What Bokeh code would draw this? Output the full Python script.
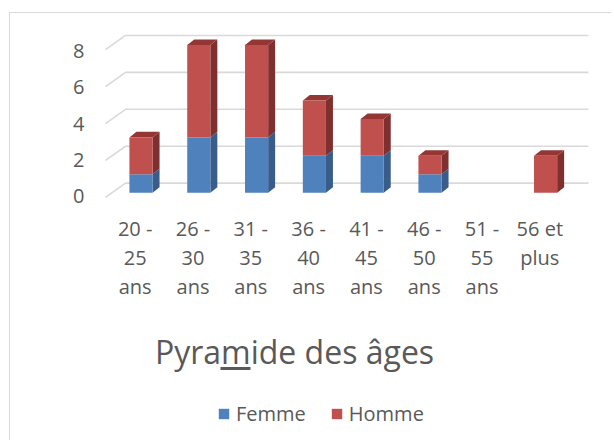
from bokeh.plotting import figure
from bokeh.models import (Range1d, FixedTicker, Legend, LegendItem, Label,
                          ColumnDataSource)
from bokeh.layouts import column
from bokeh.embed import file_html
from bokeh.resources import INLINE

# ---- data ----
categories = ["20 - 25 ans", "26 - 30 ans", "31 - 35 ans", "36 - 40 ans",
              "41 - 45 ans", "46 - 50 ans", "51 - 55 ans", "56 et plus"]
tick_labels = ["20 -\n25\nans", "26 -\n30\nans", "31 -\n35\nans", "36 -\n40\nans",
               "41 -\n45\nans", "46 -\n50\nans", "51 -\n55\nans", "56 et\nplus"]
femme = [1, 3, 3, 2, 2, 1, 0, 0]
homme = [2, 5, 5, 3, 2, 1, 0, 2]
y_ticks = [0, 2, 4, 6, 8]
series_names = ["Femme", "Homme"]
chart_title = "Pyramide des âges"

# ---- styling ----
FONT = "Open Sans"
TXT = "#595959"
GRID = "#d9d9d9"
BLUE, BLUE_SIDE, BLUE_TOP = "#4F81BD", "#385D8A", "#3F6797"
RED, RED_SIDE, RED_TOP = "#C0504D", "#7F2F2D", "#943634"
BW = 0.4        # bar width (x units)
DX = 0.121      # depth offset x
DY = 0.30       # depth offset y
W = 602
H1 = 305
H2 = 123
FL, FR = 78, 12  # frame borders (left/right), shared by both figures

# ================= chart =================
p = figure(width=W, height=H1, x_range=Range1d(-0.908, 7.95),
           y_range=Range1d(-0.69, 9.06), output_backend="svg",
           toolbar_location=None, min_border_left=FL, min_border_right=FR,
           min_border_top=12, min_border_bottom=H1 - 192)
p.grid.visible = False
p.outline_line_color = None
p.background_fill_color = "white"
p.border_fill_color = "white"

# 3D-ish gridlines (front diagonal + back wall line)
gx, gy = [], []
for v in y_ticks:
    gx.append([-0.614, -0.268, 7.742])
    gy.append([v - 0.25, v + 0.52, v + 0.52])
p.multi_line(gx, gy, line_color=GRID, line_width=1.6)

n = len(categories)
xs = list(range(n))
tops_h = [f + h for f, h in zip(femme, homme)]


def side_and_top(bot, top, with_top):
    sx, sy, tx, ty = [], [], [], []
    for i in range(n):
        if top[i] <= bot[i]:
            continue
        r = xs[i] + BW / 2
        l = xs[i] - BW / 2
        sx.append([r, r, r + DX, r + DX])
        sy.append([bot[i], top[i], top[i] + DY, bot[i] + DY])
        if with_top[i]:
            tx.append([l, r, r + DX, l + DX])
            ty.append([top[i], top[i], top[i] + DY, top[i] + DY])
    return sx, sy, tx, ty


# Femme
sx, sy, tx, ty = side_and_top([0] * n, femme, [h == 0 for h in homme])
p.patches(sx, sy, fill_color=BLUE_SIDE, line_color=None)
if tx:
    p.patches(tx, ty, fill_color=BLUE_TOP, line_color=None)
keep_f = [i for i in range(n) if femme[i] > 0]
src_f = ColumnDataSource(dict(x=[xs[i] for i in keep_f], b=[0] * len(keep_f),
                              t=[femme[i] for i in keep_f]))
p.vbar(x="x", bottom="b", top="t", width=BW, source=src_f,
       fill_color=BLUE, line_color=None)

# Homme
sx, sy, tx, ty = side_and_top(femme, tops_h, [True] * n)
p.patches(sx, sy, fill_color=RED_SIDE, line_color=None)
p.patches(tx, ty, fill_color=RED_TOP, line_color=None)
keep_h = [i for i in range(n) if homme[i] > 0]
src_h = ColumnDataSource(dict(x=[xs[i] for i in keep_h],
                              b=[femme[i] for i in keep_h],
                              t=[tops_h[i] for i in keep_h]))
p.vbar(x="x", bottom="b", top="t", width=BW, source=src_h,
       fill_color=RED, line_color=None)

# axes
XSHIFT = -0.1
p.xaxis.ticker = FixedTicker(ticks=[i + XSHIFT for i in xs])
p.xaxis.major_label_overrides = {i + XSHIFT: lab for i, lab in zip(xs, tick_labels)}
ytick_pos = [round(v * 0.985 - 0.2, 3) for v in y_ticks]
p.yaxis.ticker = FixedTicker(ticks=ytick_pos)
p.yaxis.major_label_overrides = {pos: str(v) for pos, v in zip(ytick_pos, y_ticks)}
for ax in (p.xaxis, p.yaxis):
    ax.axis_line_color = None
    ax.major_tick_line_color = None
    ax.minor_tick_line_color = None
    ax.major_tick_in = 0
    ax.major_tick_out = 0
    ax.major_label_text_font = FONT
    ax.major_label_text_font_size = "20px"
    ax.major_label_text_color = TXT
p.xaxis.major_label_standoff = 9
p.xaxis.major_label_text_line_height = 1.08
p.yaxis.major_label_standoff = 4

# ================= title + legend strip =================
# pixel-mapped ranges: data x == canvas x, data y == canvas y from top
p2 = figure(width=W, height=H2, x_range=Range1d(FL, W - FR), y_range=Range1d(H2, 0),
            x_axis_type=None, y_axis_type=None, output_backend="svg",
            toolbar_location=None, min_border_left=FL, min_border_right=FR,
            min_border_top=0, min_border_bottom=0)
p2.outline_line_color = None
p2.background_fill_color = "white"
p2.border_fill_color = "white"

p2.add_layout(Label(x=284, y=33, text=chart_title, text_align="center",
                    text_baseline="alphabetic", text_font=FONT,
                    text_font_size="32px", text_color=TXT))
# the underline under the "m" of the title, as in the source picture
p2.quad(left=[210], right=[240], top=[48.5], bottom=[51.5], fill_color=TXT,
        line_color=None)

# legend proxies (single zero-height bar placed outside the visible range)
lf = p2.vbar(x=[-1000], bottom=[0], top=[0], width=1, fill_color=BLUE, line_color=None)
lh = p2.vbar(x=[-1000], bottom=[0], top=[0], width=1, fill_color=RED, line_color=None)
legend = Legend(items=[LegendItem(label=series_names[0], renderers=[lf]),
                       LegendItem(label=series_names[1], renderers=[lh])],
                orientation="horizontal", location=(129, 14),
                border_line_color=None, background_fill_alpha=0,
                padding=0, margin=0, spacing=24, label_standoff=6,
                glyph_width=13, glyph_height=13,
                label_text_font=FONT, label_text_font_size="20px",
                label_text_color=TXT)
p2.add_layout(legend)

layout = column(p, p2, spacing=0,
                styles={"margin-left": "10px", "margin-top": "13px",
                        "box-shadow": "-1px -1px 0 0 #d9d9d9"})

open("out.html", "w").write(file_html(layout, INLINE))
